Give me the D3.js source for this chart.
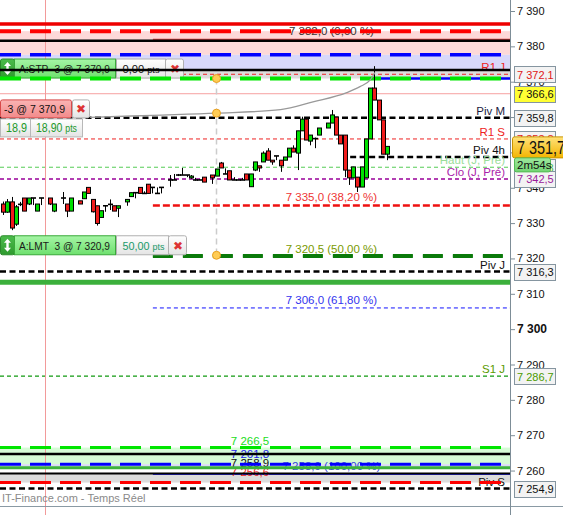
<!DOCTYPE html>
<html><head><meta charset="utf-8">
<script src="https://cdn.jsdelivr.net/npm/d3@7/dist/d3.min.js"></script>
<style>
html,body{margin:0;padding:0;background:#fff;overflow:hidden}
svg text{font-family:"Liberation Sans",Arial,sans-serif;white-space:pre}
</style></head><body>
<svg id="chart" width="563" height="515"></svg>
<script>
// ---------------- DATA ----------------
const candleIndex = [0,1,2,3,4,5,6,7,8,9, 11,12,14,15,16,18,19,20,21,22, 23,24,25,26,27,29,30,31,32,33, 34,35,36,37,39,40,41,42,43,44, 45,46,47,49,50,51,52,53,54,55, 56,57,58,59,60,61,62,63,64,65, 66,67,68,69,70,71,72,73,74,76, 77,78,79,80,81,82,83,84,85,86, 87,88,89,90];
const candleOpen = [7335.4,7333.1,7336.0,7329.7,7335.3,7337.1,7335.4,7337.1,7333.4,7337.1,
 7337.1,7333.4,7337.1,7335.4,7333.4,7336.3,7336.9,7340.1,7336.7,7334.9,
 7331.6,7334.9,7335.3,7334.9,7334.2,7336.0,7337.5,7338.6,7340.1,7338.4,
 7341.0,7340.1,7338.4,7340.1,7342.2,7342.2,7343.6,7343.6,7343.6,7342.8,
 7342.2,7342.2,7343.0,7343.6,7343.3,7347.0,7343.9,7344.8,7342.2,7342.2,
 7342.2,7343.9,7340.3,7345.0,7346.2,7347.3,7350.4,7347.8,7349.0,7347.8,
 7347.8,7348.7,7351.2,7349.8,7356.1,7359.4,7353.2,7353.9,7354.9,7356.9,
 7358.3,7360.0,7354.9,7354.9,7345.0,7342.8,7343.0,7340.2,7342.8,7353.8,
 7368.2,7364.8,7359.2,7349.5];
const candleHigh = [7336.1,7336.8,7337.4,7335.1,7336.0,7337.1,7337.1,7337.1,7335.4,7337.1,
 7337.1,7335.4,7338.8,7335.4,7337.1,7336.3,7338.8,7340.1,7336.7,7334.9,
 7333.5,7334.9,7336.7,7334.9,7334.9,7336.7,7338.6,7338.6,7340.1,7339.0,
 7341.0,7340.1,7340.1,7340.1,7343.6,7343.9,7343.9,7345.6,7343.6,7343.6,
 7342.8,7342.5,7343.0,7343.6,7345.3,7347.3,7345.5,7344.8,7343.0,7342.2,
 7342.8,7343.9,7343.9,7347.3,7346.2,7350.3,7351.2,7347.8,7349.0,7347.8,
 7348.7,7351.2,7352.0,7356.1,7360.1,7360.0,7354.9,7354.2,7356.9,7358.3,
 7362.0,7360.0,7354.9,7354.9,7345.0,7345.9,7343.0,7345.9,7353.8,7368.2,
 7374.4,7364.8,7359.2,7351.7];
const candleLow = [7332.3,7332.9,7328.0,7329.2,7334.8,7333.4,7335.1,7335.1,7333.4,7335.1,
 7335.1,7333.1,7335.4,7331.7,7333.4,7335.4,7336.9,7338.4,7333.0,7329.3,
 7331.6,7333.2,7333.7,7333.4,7331.7,7334.9,7337.5,7337.0,7338.4,7338.4,
 7338.4,7338.4,7338.4,7338.4,7340.3,7342.2,7343.3,7343.6,7343.0,7342.5,
 7342.0,7342.2,7341.6,7341.1,7343.3,7345.6,7343.9,7342.2,7342.2,7342.2,
 7342.2,7342.2,7340.3,7344.7,7344.5,7347.3,7347.8,7346.5,7347.8,7344.5,
 7347.8,7348.7,7350.1,7345.0,7356.1,7353.5,7352.0,7351.2,7354.9,7356.9,
 7358.3,7354.9,7352.4,7343.0,7340.8,7342.8,7338.8,7340.2,7342.8,7353.8,
 7364.8,7359.2,7349.5,7347.8];
const candleClose = [7333.1,7336.0,7328.6,7334.6,7335.3,7333.4,7337.1,7337.1,7335.4,7337.1,
 7335.4,7335.4,7337.1,7333.4,7337.1,7335.4,7338.8,7338.4,7333.2,7329.9,
 7333.5,7334.9,7335.3,7333.4,7334.9,7336.7,7338.6,7338.6,7338.4,7338.4,
 7338.4,7340.1,7338.4,7340.1,7342.2,7342.2,7343.6,7343.6,7343.6,7343.3,
 7342.2,7342.2,7341.6,7342.8,7345.3,7345.6,7343.9,7342.2,7342.2,7342.2,
 7342.2,7342.2,7343.9,7347.3,7345.6,7349.8,7347.8,7347.3,7349.0,7346.2,
 7348.7,7351.2,7350.1,7356.1,7359.4,7353.5,7354.9,7353.9,7356.9,7358.3,
 7360.6,7354.9,7352.4,7345.0,7342.8,7345.9,7340.2,7345.9,7353.8,7368.2,
 7364.8,7359.2,7349.5,7351.7];

const tickValues = [7390,7380,7370,7360,7350,7340,7330,7320,7310,7300,7290,7280,7270,7260];

const pivotNames  = ["R1 J","Piv M","R1 S","Piv 4h","Haut (J, Pré)","Clo (J, Pré)","Piv J","S1 J","Piv S"];
const pivotValues = [7372.1,7359.8,7353.8,7348.7,7345.8,7342.5,7316.3,7286.7,7254.9];
const pivotStart  = [0,0,0,81.3,0,0,0,0,0];   // candle index where the level begins

const fibPercents = [0,38.2,50,61.8,100];
const fibValues   = [7382.0,7335.0,7320.5,7306.0,7258.9];
const fibStart    = 35.1;

const upperZone = [7386.3,7384.3,7381.6,7377.6,7373.3,7370.9];
const lowerZone = [7266.5,7264.7,7261.8,7260.8,7259.2,7256.6];
const lowerZoneLabels = [7266.5,7261.8,7258.9,7256.6];

const refLevel   = 7366.6;
const supportLevel = 7313.3;
const lastPrice  = 7351.7;
const timerText  = "2m54s";
const cursorIndex = 9.8;
const markerIndex = 50;

const orderTypes  = ["A:STP","A:LMT"];
const orderQty    = [-3,3];
const orderPrices = [7370.9,7320.9];
const orderPts    = [0.00,50.00];

const positionQty = -3;
const positionPrice = 7370.9;
const positionGain = 18.9;

const curveIndex = [20.4,35,50,65,72.6,80.5,83.6,86,87.1];
const curvePrice = [7359.9,7360.5,7361.1,7362.1,7364.3,7366.9,7368.6,7370.5,7372.6];

// --------------- SETUP ---------------
const locale = d3.formatLocale({decimal:",",thousands:" ",grouping:[3],currency:["",""]});
const f0 = locale.format(",.0f"), f1 = locale.format(",.1f"), f2 = locale.format(",.2f");

const PR = 510, PB = 506;
const y = d3.scaleLinear().domain([7390,7260]).range([11,470.55]);
const x = d3.scaleLinear().domain([0,90]).range([3,387.3]);

const svg = d3.select("#chart");
const defs = svg.append("defs");
function grad(id,c1,c2){const g=defs.append("linearGradient").attr("id",id).attr("x1",0).attr("y1",0).attr("x2",0).attr("y2",1);
  g.append("stop").attr("offset","0%").attr("stop-color",c1);g.append("stop").attr("offset","100%").attr("stop-color",c2);}
grad("gGreen","#a6f5a6","#6ee06e");
grad("gPink","#fbb4b4","#f28a8a");
grad("gGrey","#ffffff","#e4e4e4");
grad("gGold","#ffe27a","#f3b400");
grad("gTimer","#9ee89e","#72d472");
grad("gArrow","#4cbc4c","#2e9a2e");
defs.append("clipPath").attr("id","pc").append("rect").attr("x",0).attr("y",0).attr("width",PR).attr("height",PB);

const plot = svg.append("g").attr("clip-path","url(#pc)");
const L = (g,v,x0,x1,color,w,dash)=>g.append("line").attr("x1",x0).attr("x2",x1)
   .attr("y1",y(v)).attr("y2",y(v)).attr("stroke",color).attr("stroke-width",w)
   .attr("stroke-dasharray",dash||null);
const band=(v1,v2,fill)=>plot.append("rect").attr("x",0).attr("width",PR)
   .attr("y",y(v1)).attr("height",y(v2)-y(v1)).attr("fill",fill);

// bands
band(upperZone[1],upperZone[3],"#fdd9d9");
band(upperZone[3],upperZone[4],"#d8d8fa");
band(upperZone[4],upperZone[5],"#dcdcdc");
band(lowerZone[0],lowerZone[2],"#d6fcd6");
band(lowerZone[2],lowerZone[3],"#dadaf6");
band(lowerZone[4],lowerZone[5],"#dcdcdc");

// cursor vertical
svg.append("line").attr("x1",Math.round(x(cursorIndex))+0.5).attr("x2",Math.round(x(cursorIndex))+0.5)
  .attr("y1",0).attr("y2",515).attr("stroke","#f29a9a").attr("stroke-width",1);

// pivot lines
const pivotStyle = {
 "R1 J":{c:"#ee2222",w:1,d:"4,3",lc:"#ee2222",tc:"#e01818"},
 "Piv M":{c:"#000",w:2.5,d:"6,3.5",lc:"#1a1a40",tc:"#111"},
 "R1 S":{c:"#ee2222",w:1,d:"4,3",lc:"#ee2222",tc:"#e01818"},
 "Piv 4h":{c:"#000",w:2.5,d:"6,3.5",lc:"#111",tc:"#111"},
 "Haut (J, Pré)":{c:"#55cc55",w:1,d:"4,3",lc:"#99dd99",tc:"#44bb44"},
 "Clo (J, Pré)":{c:"#990099",w:1.5,d:"4,3",lc:"#aa22aa",tc:"#9a1a9a"},
 "Piv J":{c:"#000",w:2.5,d:"6,3.5",lc:"#111",tc:"#111"},
 "S1 J":{c:"#119911",w:1.2,d:"4,3",lc:"#5a9a00",tc:"#4a9a00"},
 "Piv S":{c:"#000",w:2.5,d:"6,3.5",lc:"#111",tc:"#111"}
};
L(plot,refLevel,0,PR,"#f7a0a0",1);
pivotNames.forEach((n,i)=>{const s=pivotStyle[n];L(plot,pivotValues[i],pivotStart[i]>0?x(pivotStart[i]):0,PR,s.c,s.w,s.d);});

// fib lines
const fibStyle=[{c:"#dd2222",w:1,d:null,t:"#333"},{c:"#ee1111",w:2.5,d:"7,3",t:"#ee3333"},
  {c:"#0a7a0a",w:2.5,d:"20,10",t:"#7a9a00"},{c:"#1111ff",w:1,d:"4,3",t:"#3333ee"},{c:"#2222ff",w:1,d:null,t:"#3344dd"}];
fibValues.forEach((v,i)=>L(plot,v,x(fibStart),PR,fibStyle[i].c,fibStyle[i].w,fibStyle[i].d));

// labels
const xMid=(x(fibStart)+PR)/2;
fibValues.forEach((v,i)=>plot.append("text").attr("x",xMid).attr("y",y(v)-4).attr("text-anchor","middle")
  .attr("font-size",11.5).attr("fill",fibStyle[i].t).text(`${f1(v)} (${f2(fibPercents[i])} %)`));
pivotNames.forEach((n,i)=>plot.append("text").attr("x",505).attr("y",y(pivotValues[i])-3).attr("text-anchor","end")
  .attr("font-size",11.5).attr("fill",pivotStyle[n].lc).text(n));
const lzColors=["#22dd22","#2222ee","#111","#ee2222"], lzOff=[-3,-6,-7,-7];
lowerZoneLabels.forEach((v,i)=>plot.append("text").attr("x",250).attr("y",y(v)+lzOff[i]).attr("text-anchor","middle")
  .attr("font-size",11.5).attr("fill",lzColors[i]).text(f1(v)));

// fitted text helper
function fitText(g,x0,yb,size,color,len){
  return g.append("text").attr("x",x0).attr("y",yb).attr("font-size",size).attr("fill",color)
    .attr("textLength",len).attr("lengthAdjust","spacingAndGlyphs");
}

// order box helper
function orderBox(k){
  const yb=y(orderPrices[k]), h=20, y0=yb-h;
  const g=svg.append("g");
  const wMain=101, wPts = k===0?49:52;
  g.append("rect").attr("x",0.5).attr("y",y0+0.5).attr("width",14).attr("height",h-1).attr("rx",2).attr("fill","url(#gArrow)").attr("stroke","#2a8a2a");
  g.append("path").attr("d",`M7.5,${y0+3.5} l-3.5,4 h2.3 v5 h-2.3 l3.5,4 l3.5,-4 h-2.3 v-5 h2.3 z`).attr("fill","#fff");
  g.append("rect").attr("x",14.5).attr("y",y0+0.5).attr("width",wMain).attr("height",h-1).attr("fill","url(#gGreen)").attr("stroke","#3aa83a");
  const q = orderQty[k]<0? String(orderQty[k]) : " "+orderQty[k];
  fitText(g,19,y0+14.5,11.5,"#1a1a1a",91).text(`${orderTypes[k]} ${q} @ ${f1(orderPrices[k])}`);
  const xp=15.5+wMain;
  g.append("rect").attr("x",xp).attr("y",y0+0.5).attr("width",wPts).attr("height",h-1).attr("fill","url(#gGrey)").attr("stroke","#b0b0b0");
  const pc = k===0?"#111":"#1a9a6a";
  const t=fitText(g,xp+6,y0+14.5,11.5,pc,k===0?37:42);
  t.append("tspan").text(f2(orderPts[k])+" ");
  t.append("tspan").attr("font-size",9.5).text("pts");
  const xx=xp+wPts;
  g.append("rect").attr("x",xx).attr("y",y0+0.5).attr("width",18).attr("height",h-1).attr("rx",2).attr("fill","url(#gGrey)").attr("stroke","#b0b0b0");
  g.append("text").attr("x",xx+9).attr("y",y0+14.5).attr("text-anchor","middle").attr("font-size",12).attr("fill","#dd3333")
   .attr("font-family","DejaVu Sans").text("✖");
}
orderBox(0);

// zone lines
const zl = svg.append("g").attr("clip-path","url(#pc)");
L(zl,upperZone[0],0,PR,"#ee0000",3.5);
L(zl,upperZone[1],0,PR,"#ff0000",4,"21,9");
L(zl,upperZone[2],0,PR,"#000",2.5);
L(zl,upperZone[3],0,PR,"#0000ff",3.5,"21,9");
L(zl,upperZone[4],0,PR,"#000",2.5);
L(zl,orderPrices[0],370,PR,"#0000ff",2.5);
L(zl,upperZone[5],0,PR,"#00e600",4,"21,9");
L(zl,lowerZone[0],0,PR,"#00e600",3,"21,9");
L(zl,lowerZone[1],0,PR,"#000",2.5);
L(zl,lowerZone[2],0,PR,"#0000ff",3,"21,9");
L(zl,lowerZone[3],0,PR,"#3cb33c",3);
L(zl,lowerZone[4],0,PR,"#000",2);
L(zl,lowerZone[5],0,PR,"#ff0000",3,"21,9");
L(zl,supportLevel,0,PR,"#3cb03c",5);
L(zl,orderPrices[1],x(fibStart),PR,"#0a7a0a",2.5,"20,10");

// marker vertical dashed
const xm=x(markerIndex);
svg.append("line").attr("x1",xm).attr("x2",xm).attr("y1",y(orderPrices[0])).attr("y2",y(orderPrices[1]))
  .attr("stroke","#cccccc").attr("stroke-width",1.5).attr("stroke-dasharray","6,4");

// candles
const cg=svg.append("g");
candleIndex.forEach((t,k)=>{
  const o=candleOpen[k],h=candleHigh[k],l=candleLow[k],c=candleClose[k];
  const cx=Math.round(x(t))+0.5;
  cg.append("line").attr("x1",cx).attr("x2",cx).attr("y1",y(h)).attr("y2",y(l)).attr("stroke","#000").attr("stroke-width",1);
  if(Math.abs(o-c)<0.25){
    cg.append("line").attr("x1",cx-2.5).attr("x2",cx+2.5).attr("y1",y(o)).attr("y2",y(o)).attr("stroke","#000").attr("stroke-width",1.6);
  } else {
    const top=y(Math.max(o,c)), bot=y(Math.min(o,c));
    cg.append("rect").attr("x",cx-2).attr("y",top).attr("width",4).attr("height",bot-top)
      .attr("fill",c>o?"#00e000":"#f01c1c").attr("stroke","#000").attr("stroke-width",1);
  }
});

// curve + dots
const line=d3.line().x(d=>x(d[0])).y(d=>y(d[1])).curve(d3.curveMonotoneX);
svg.append("path").attr("d",line(curveIndex.map((t,i)=>[t,curvePrice[i]]))).attr("fill","none")
  .attr("stroke","#999").attr("stroke-width",1.3);
const curveAt = d3.scaleLinear().domain(curveIndex).range(curvePrice);
[orderPrices[0],curveAt(markerIndex),orderPrices[1]].forEach(v=>svg.append("circle").attr("cx",xm).attr("cy",y(v)).attr("r",4)
  .attr("fill","#ffcc55").attr("stroke","#e8a020").attr("stroke-width",1));

// position box
{
  const yb=y(curvePrice[0]), y0=yb-18;
  const g=svg.append("g");
  g.append("rect").attr("x",0.5).attr("y",y0+0.5).attr("width",71).attr("height",18).attr("rx",2).attr("fill","url(#gPink)").attr("stroke","#d84a4a");
  fitText(g,4,y0+13.5,11.5,"#111",61).text(`${positionQty} @ ${f1(positionPrice)}`);
  g.append("rect").attr("x",72.5).attr("y",y0+0.5).attr("width",17).attr("height",18).attr("rx",2).attr("fill","url(#gGrey)").attr("stroke","#b0b0b0");
  g.append("text").attr("x",81).attr("y",y0+13.5).attr("text-anchor","middle").attr("font-size",12).attr("fill","#dd3333")
   .attr("font-family","DejaVu Sans").text("✖");
  const y1=yb+1;
  g.append("rect").attr("x",0.5).attr("y",y1+0.5).attr("width",30).attr("height",18).attr("fill","url(#gGrey)").attr("stroke","#b8b8b8");
  fitText(g,6,y1+14,12,"#22992a",21).text(f1(positionGain));
  g.append("rect").attr("x",30.5).attr("y",y1+0.5).attr("width",52).attr("height",18).attr("fill","url(#gGrey)").attr("stroke","#b8b8b8");
  const t=fitText(g,36,y1+14,12,"#22992a",41);
  t.append("tspan").text(f2(positionGain)+" ");
  t.append("tspan").attr("font-size",10).text("pts");
}
orderBox(1);

// bottom border + watermark
svg.append("line").attr("x1",0).attr("x2",563).attr("y1",PB+0.5).attr("y2",PB+0.5).attr("stroke","#8a9aa4");
svg.append("text").attr("x",2).attr("y",502).attr("font-size",11).attr("fill","#8a8a8a").text("IT-Finance.com - Temps Réel");

// axis
const tagValues = pivotValues.filter((v,i)=>pivotNames[i]!=="Piv 4h").concat([refLevel]);
const axis=d3.axisRight(y).tickValues(tickValues).tickSize(5).tickPadding(2).tickFormat(d=>f0(d));
const ag=svg.append("g").attr("transform",`translate(${PR},0)`).call(axis);
ag.select(".domain").remove();
ag.selectAll(".tick line").attr("stroke","#7d8d97");
ag.selectAll(".tick text").attr("font-size",11).attr("fill","#111").attr("font-family","Liberation Sans, Arial, sans-serif");
ag.selectAll(".tick text").filter(d=>d===7300).attr("font-weight","bold").attr("font-size",12);
// labels fully covered by a price tag are not drawn
const yl=y(lastPrice);
ag.selectAll(".tick text").filter(d=>tagValues.some(v=>Math.abs(y(v)-y(d))<6) || (y(d)>yl-10 && y(d)<yl+26)).remove();
svg.append("line").attr("x1",PR+0.5).attr("x2",PR+0.5).attr("y1",0).attr("y2",515).attr("stroke","#7d8d97");

// tags
function tag(v,txt,fill,color){
  const yc=y(v);
  svg.append("rect").attr("x",514.5).attr("y",Math.round(yc-8)+0.5).attr("width",41).attr("height",16).attr("fill",fill).attr("stroke","#8595a0");
  svg.append("text").attr("x",517).attr("y",yc+4.5).attr("font-size",11).attr("fill",color).text(txt);
}
pivotNames.forEach((n,i)=>{ if(n!=="Piv 4h") tag(pivotValues[i],f1(pivotValues[i]),"#f3f3f3",pivotStyle[n].tc); });
tag(refLevel,f1(refLevel),"#ffff33","#111");
// last price
{
  const yc=y(lastPrice);
  svg.append("rect").attr("x",512.5).attr("y",yc-9.5).attr("width",56).attr("height",21).attr("rx",2).attr("fill","url(#gGold)").attr("stroke","#c99400");
  svg.append("text").attr("transform",`translate(517,${yc+7.5}) scale(0.76,1)`).attr("font-size",19).attr("fill","#111").text(f1(lastPrice));
  svg.append("rect").attr("x",514.5).attr("y",yc+11.5).attr("width",36).attr("height",14).attr("rx",2).attr("fill","url(#gTimer)").attr("stroke","#55bb55");
  svg.append("text").attr("x",517).attr("y",yc+22.5).attr("font-size",11.5).attr("fill","#111").text(timerText);
}
</script></body></html>
